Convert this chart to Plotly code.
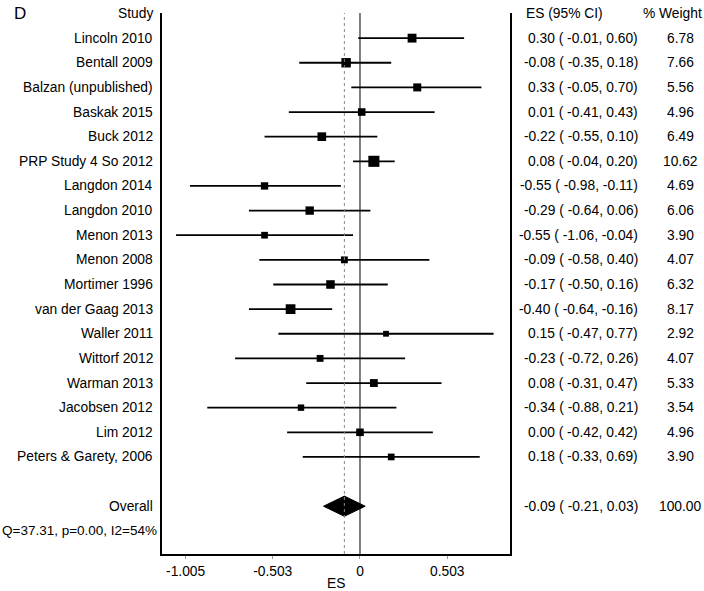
import plotly.graph_objects as go
import math

studies = ["Lincoln 2010", "Bentall 2009", "Balzan (unpublished)", "Baskak 2015",
           "Buck 2012", "PRP Study 4 So 2012", "Langdon 2014", "Langdon 2010",
           "Menon 2013", "Menon 2008", "Mortimer 1996", "van der Gaag 2013",
           "Waller 2011", "Wittorf 2012", "Warman 2013", "Jacobsen 2012",
           "Lim 2012", "Peters & Garety, 2006"]
es = [0.30, -0.08, 0.33, 0.01, -0.22, 0.08, -0.55, -0.29, -0.55, -0.09,
      -0.17, -0.40, 0.15, -0.23, 0.08, -0.34, 0.00, 0.18]
lo = [-0.01, -0.35, -0.05, -0.41, -0.55, -0.04, -0.98, -0.64, -1.06, -0.58,
      -0.50, -0.64, -0.47, -0.72, -0.31, -0.88, -0.42, -0.33]
hi = [0.60, 0.18, 0.70, 0.43, 0.10, 0.20, -0.11, 0.06, -0.04, 0.40,
      0.16, -0.16, 0.77, 0.26, 0.47, 0.21, 0.42, 0.69]
weights = [6.78, 7.66, 5.56, 4.96, 6.49, 10.62, 4.69, 6.06, 3.90, 4.07,
           6.32, 8.17, 2.92, 4.07, 5.33, 3.54, 4.96, 3.90]

overall_label = "Overall"
overall_es, overall_lo, overall_hi, overall_w = -0.09, -0.21, 0.03, 100.00
het_text = "Q=37.31, p=0.00, I2=54%"
panel_label = "D"

tick_vals = [-1.005, -0.503, 0, 0.503]
tick_text = ["-1.005", "-0.503", "0", "0.503"]

FONT = "Liberation Sans, Arial, Helvetica, sans-serif"
FS = 13.8

rows = list(range(1, len(studies) + 1))
overall_row = len(studies) + 2
het_row = overall_row + 1

fig = go.Figure()

# CI lines
cx, cy = [], []
for r, l, h in zip(rows, lo, hi):
    cx += [l, h, None]
    cy += [r, r, None]
fig.add_trace(go.Scatter(x=cx, y=cy, mode="lines",
                         line=dict(color="black", width=1.8),
                         hoverinfo="skip", showlegend=False))

# weight boxes
fig.add_trace(go.Scatter(x=es, y=rows, mode="markers",
                         marker=dict(symbol="square", color="#000000", opacity=1,
                                     size=[3.4 * math.sqrt(w) for w in weights],
                                     line=dict(width=0)),
                         showlegend=False))

# overall diamond
dh = 0.41
fig.add_trace(go.Scatter(
    x=[overall_lo, overall_es, overall_hi, overall_es, overall_lo],
    y=[overall_row, overall_row - dh, overall_row, overall_row + dh, overall_row],
    mode="lines", fill="toself", fillcolor="black",
    line=dict(color="black", width=1), showlegend=False, hoverinfo="skip"))

# reference lines
fig.add_shape(type="line", xref="x", yref="paper", x0=0, x1=0, y0=0, y1=1,
              line=dict(color="black", width=1))
fig.add_shape(type="line", xref="x", yref="paper", x0=overall_es, x1=overall_es,
              y0=0, y1=1, line=dict(color="#888888", width=1, dash="dot"))

ann = []
def add(text, x, y, xanchor, xshift=0, yref="y", yshift=0, size=FS):
    ann.append(dict(text=text, x=x, xref="paper", y=y, yref=yref,
                    xanchor=xanchor, yanchor="middle", xshift=xshift,
                    yshift=yshift, showarrow=False,
                    font=dict(family=FONT, size=size, color="black")))

# headers
add("Study", 0, 0, "right", -7)
add("ES (95% CI)", 1, 0, "center", 54)
add("% Weight", 1, 0, "center", 162)

def row_text(name, r, e, l, h, w):
    add(name, 0, r, "right", -7)
    s = f"{e:.2f}  ( {l:.2f}, {h:5.2f})".replace("  ", " ")
    add(s, 1, r, "right", 130)
    add(f"{w:.2f}", 1, r, "center", 170)

for name, r, e, l, h, w in zip(studies, rows, es, lo, hi, weights):
    row_text(name, r, e, l, h, w)
row_text(overall_label, overall_row, overall_es, overall_lo, overall_hi, overall_w)
add(het_text, 0, het_row, "left", -162, size=13.5)

# panel label
add(panel_label, 0, 1, "left", -150, yref="paper", size=17)
# x title
add("ES", 0.5, 0, "center", 0, yref="paper", yshift=-29)

fig.update_layout(
    width=704, height=591,
    margin=dict(l=162, r=194, t=13, b=37, pad=0),
    plot_bgcolor="white", paper_bgcolor="white",
    annotations=ann,
    xaxis=dict(range=[-1.141, 0.8645], tickvals=tick_vals, ticktext=tick_text,
               showgrid=False, zeroline=False, showline=True, linecolor="black",
               linewidth=2, mirror=False, ticks="outside", ticklen=3,
               tickcolor="#999999", tickfont=dict(family=FONT, size=FS, color="black")),
    yaxis=dict(range=[21.94, -0.02], showgrid=False, zeroline=False,
               showticklabels=False, showline=True, linecolor="black",
               linewidth=2, mirror=True, ticks=""),
    showlegend=False,
)

fig.write_html("out.html", config={"displayModeBar": False},
               post_script="document.body.style.margin='0';document.body.style.padding='0';document.body.style.overflow='hidden';")
